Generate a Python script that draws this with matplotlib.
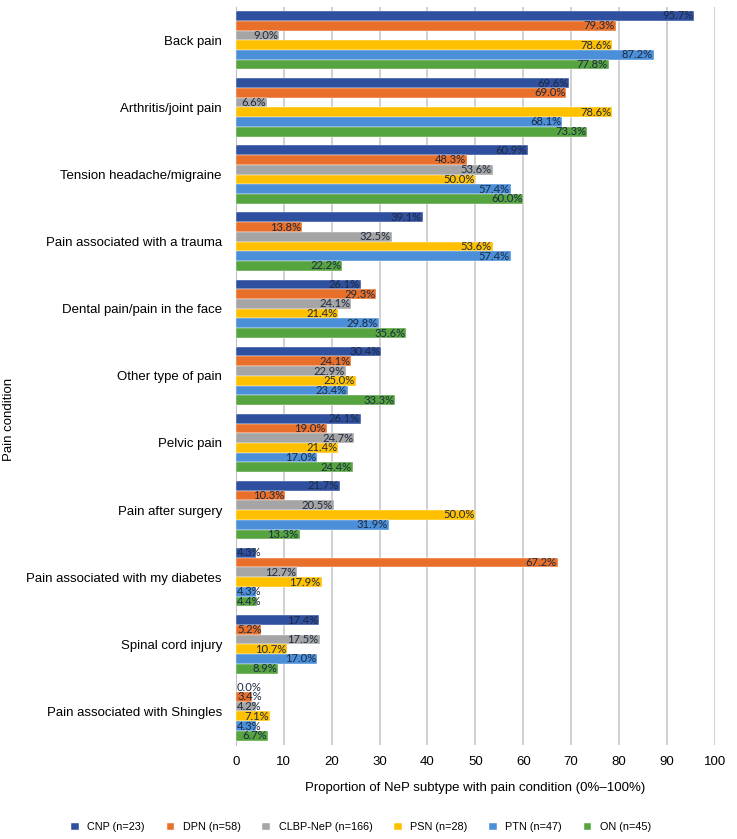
import numpy as np
import matplotlib
matplotlib.use("Agg")
import matplotlib.pyplot as plt

plt.rcParams['font.family'] = ['Liberation Sans', 'DejaVu Sans']

conditions = ["Back pain", "Arthritis/joint pain", "Tension headache/migraine",
              "Pain associated with a trauma", "Dental pain/pain in the face",
              "Other type of pain", "Pelvic pain", "Pain after surgery",
              "Pain associated with my diabetes", "Spinal cord injury",
              "Pain associated with Shingles"]

series = ["CNP (n=23)", "DPN (n=58)", "CLBP-NeP (n=166)", "PSN (n=28)", "PTN (n=47)", "ON (n=45)"]
colors = ["#2f4f9f", "#e8702a", "#a5a5a5", "#ffc000", "#4a8fd8", "#56a440"]

cnp = [95.7, 69.6, 60.9, 39.1, 26.1, 30.4, 26.1, 21.7, 4.3, 17.4, 0.0]
dpn = [79.3, 69.0, 48.3, 13.8, 29.3, 24.1, 19.0, 10.3, 67.2, 5.2, 3.4]
clbp = [9.0, 6.6, 53.6, 32.5, 24.1, 22.9, 24.7, 20.5, 12.7, 17.5, 4.2]
psn = [78.6, 78.6, 50.0, 53.6, 21.4, 25.0, 21.4, 50.0, 17.9, 10.7, 7.1]
ptn = [87.2, 68.1, 57.4, 57.4, 29.8, 23.4, 17.0, 31.9, 4.3, 17.0, 4.3]
on = [77.8, 73.3, 60.0, 22.2, 35.6, 33.3, 24.4, 13.3, 4.4, 8.9, 6.7]
values = [cnp, dpn, clbp, psn, ptn, on]

fig = plt.figure(figsize=(7.37, 8.39), dpi=100)
ax = fig.add_axes([0.320, 0.112, 0.650, 0.880])

bh = 0.145
y0 = np.arange(len(conditions))
for i, (name, vals, c) in enumerate(zip(series, values, colors)):
    ys = y0 + (i - 2.5) * bh
    ax.barh(ys, vals, height=bh, color=c, edgecolor="white", linewidth=0.3,
            label=name, zorder=3)
    # labels sit inside the bar end, short bars spill over to the right
    for y, v in zip(ys, vals):
        ax.text(max(v, 5.6) - 0.2, y, "%.1f%%" % v, ha="right", va="center",
                fontsize=8.1, color="#1e2a40", zorder=4, family="Lato")

ax.set_ylim(len(conditions) - 0.5, -0.5)
ax.set_xlim(0, 100)
ax.set_xticks(range(0, 101, 10))
ax.set_yticks(y0)
ax.set_yticklabels(conditions, fontsize=9.5)
ax.tick_params(axis="x", labelsize=9.5, length=0, pad=8)
ax.tick_params(axis="y", length=0, pad=10)
ax.grid(axis="x", color="#c8c8c8", linewidth=1.2, zorder=0)
for s in ["top", "right", "bottom"]:
    ax.spines[s].set_visible(False)
ax.spines["left"].set_color("#bfbfbf")
ax.set_xlabel("Proportion of NeP subtype with pain condition (0%\u2013100%)", fontsize=9.5, labelpad=10)
fig.text(0.012, 0.5, "Pain condition", rotation=90, va="center", ha="center", fontsize=9.5)

fig.legend(loc="center", bbox_to_anchor=(0.49, 0.014), ncol=6, frameon=False,
           fontsize=7.8, handlelength=0.7, handleheight=0.7, columnspacing=2.0,
           handletextpad=0.8)

fig.savefig("out.png", dpi=100)
